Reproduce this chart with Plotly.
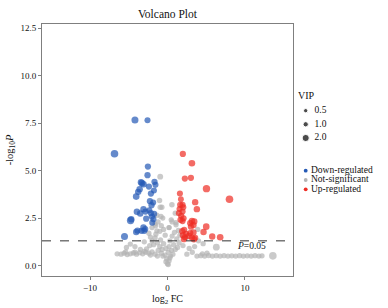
import math
import plotly.graph_objects as go

# ---------------- data ----------------
down_fc = [-4.2, -2.58, -6.84, -2.53, -2.58, -3.43, -3.1, -1.68, -1.55, -2.4, -3.6, -3.78,
           -1.75, -2.14, -4.04, -2.27, -1.85, -2.06, -3.95, -3.1, -2.84, -2.36, -2.14, -3.52,
           -1.72, -2.01, -4.68, -4.77, -2.75, -1.81, -1.97, -3.1, -2.88, -3.87, -3.35, -4.04,
           -3.0, -5.55, -3.3]
down_p = [7.67, 7.65, 5.89, 5.21, 4.76, 4.39, 4.28, 4.41, 4.25, 4.16, 4.02, 3.88,
          3.95, 3.79, 3.63, 3.39, 3.32, 3.18, 2.83, 2.97, 2.84, 2.91, 2.76, 2.74,
          2.72, 2.58, 2.44, 2.37, 2.47, 2.44, 2.26, 2.0, 1.92, 1.84, 1.83, 1.77,
          1.83, 1.53, 4.34]
down_vip = [1.9, 1.4, 2.2, 1.5, 1.5, 1.6, 1.7, 1.5, 1.4, 1.5, 1.6, 1.6,
            1.4, 1.5, 1.7, 1.5, 1.4, 1.5, 1.6, 1.6, 1.5, 1.5, 1.4, 1.6,
            1.4, 1.5, 1.6, 2.1, 1.5, 1.4, 1.4, 1.6, 1.5, 1.6, 1.5, 1.6,
            1.5, 1.9, 1.7]

up_fc = [1.98, 3.15, 2.24, 3.02, 5.03, 8.0, 1.6, 1.73, 3.57, 1.64, 1.94, 2.03,
         1.55, 3.79, 1.94, 1.47, 1.77, 2.07, 1.68, 1.94, 3.15, 3.45, 2.93, 3.35,
         3.02, 5.0, 2.15, 1.9, 4.65, 2.41, 2.93, 3.35, 1.98, 2.24, 2.76, 3.15,
         3.57, 5.77, 6.8, 2.11, 3.41]
up_p = [5.88, 5.39, 4.58, 4.62, 4.05, 3.49, 3.79, 3.49, 3.34, 3.2, 3.2, 3.07,
        2.98, 2.97, 2.84, 2.76, 2.62, 2.49, 2.41, 2.34, 2.35, 2.32, 2.23, 2.13,
        2.05, 2.05, 1.88, 1.81, 1.77, 1.67, 1.71, 1.74, 1.6, 1.49, 1.56, 1.46,
        1.46, 1.53, 1.49, 1.39, 1.39]
up_vip = [1.5, 1.7, 1.5, 1.5, 2.1, 2.2, 1.4, 1.3, 1.6, 1.5, 1.5, 1.5,
          1.4, 1.6, 1.5, 1.4, 1.5, 1.5, 1.5, 1.5, 1.6, 1.6, 1.5, 1.6,
          1.5, 1.7, 1.5, 1.5, 1.6, 1.5, 1.5, 1.6, 1.5, 1.5, 1.5, 1.5,
          1.5, 1.6, 1.7, 1.5, 1.6]

ns_fc = [-0.94, -1.03, -0.94, -0.85, 0.57, -0.72, 1.0, -1.37, -1.55, -1.37, 0.48, 1.08,
         -0.6, -1.2, 0.2,
         0.0, -0.2, 0.2, 0.1, -0.1, 0.3,
         -0.6, -0.3, 0.4, 0.7, -0.8, 0.1,
         -1.2, -0.7, -0.2, 0.5, 1.0, 1.3, -1.0, 0.2,
         -1.8, -1.3, -0.5, 0.8, 1.5, 2.0, -0.9, 0.3, 1.2, -1.6,
         -2.2, -1.5, -0.3, 0.6, 1.6, -2.4, -1.0, 0.9, 1.4, -0.5, 2.4,
         -2.0, -0.8, 0.2, 1.1, -1.6, 0.6,
         -6.5, -6.0, -5.6, -5.2, -4.8, -4.4, -4.0, -3.6, -3.2, -2.8, -2.4, -2.0,
         -1.6, -1.3, -5.4, -3.0, -2.2, -4.2,
         -4.8, -4.2, -3.5, -2.7, -2.3, -3.0, -2.0, -5.3,
         3.8, 4.3, 4.8, 5.3, 5.8, 6.3, 6.8, 7.3, 7.8, 8.3, 8.8, 9.3,
         9.8, 10.3, 10.8, 11.3, 11.8, 12.2, 13.6, 6.3, 4.5, 5.1, 3.2, 2.8,
         3.5, 4.6, 2.5, 4.0, 3.9]
ns_p = [4.68, 3.42, 3.07, 2.58, 3.2, 3.07, 2.76, 2.65, 2.09, 1.83, 2.41, 2.26,
        2.5, 2.3, 2.0,
        0.1, 0.2, 0.25, 0.05, 0.35, 0.4,
        0.5, 0.55, 0.5, 0.6, 0.65, 0.7,
        0.8, 0.85, 0.9, 0.8, 0.85, 0.95, 1.0, 1.0,
        1.1, 1.2, 1.15, 1.1, 1.2, 1.05, 1.35, 1.3, 1.4, 1.45,
        1.5, 1.65, 1.6, 1.55, 1.6, 1.7, 1.8, 1.75, 1.85, 1.9, 1.45,
        2.0, 2.1, 2.0, 2.15, 2.2, 2.3,
        0.62, 0.6, 0.65, 0.58, 0.62, 0.66, 0.6, 0.68, 0.62, 0.7, 0.65, 0.72,
        0.6, 0.5, 0.72, 0.75, 0.55, 0.7,
        1.13, 1.0, 0.85, 0.88, 1.05, 1.25, 1.3, 0.95,
        0.5, 0.52, 0.5, 0.53, 0.5, 0.52, 0.5, 0.52, 0.5, 0.51, 0.5, 0.52,
        0.5, 0.51, 0.5, 0.52, 0.5, 0.51, 0.51, 0.97, 0.62, 0.65, 0.7, 0.9,
        1.0, 1.15, 0.6, 1.3, 1.9]
ns_vip = [1.3, 1.1, 1.1, 1.1, 1.1, 1.0, 1.0, 1.0, 1.0, 1.0, 1.0, 1.0,
          0.9, 0.9, 0.9,
          1.0, 1.0, 1.0, 1.0, 1.0, 1.0,
          1.0, 1.0, 1.0, 1.0, 1.0, 1.0,
          1.0, 1.0, 1.0, 1.0, 1.0, 1.0, 1.0, 1.0,
          1.0, 1.0, 1.0, 1.0, 1.0, 1.0, 1.0, 1.0, 1.0, 1.0,
          1.0, 1.0, 1.0, 1.0, 1.0, 1.0, 1.0, 1.0, 1.0, 1.0, 1.0,
          1.0, 1.0, 1.0, 1.0, 1.0, 1.0,
          1.0, 1.0, 1.0, 1.0, 1.0, 1.0, 1.0, 1.0, 1.0, 1.0, 1.0, 1.0,
          1.0, 1.0, 1.0, 1.0, 1.0, 1.0,
          1.0, 1.0, 1.0, 1.0, 1.0, 1.0, 1.0, 1.0,
          1.0, 1.0, 1.0, 1.0, 1.0, 1.0, 1.0, 1.0, 1.0, 1.0, 1.0, 1.0,
          1.0, 1.0, 1.0, 1.0, 1.0, 1.0, 2.2, 1.8, 1.0, 1.0, 1.0, 1.0,
          1.0, 1.0, 1.0, 1.0, 1.0]

vip_legend = [0.5, 1.0, 2.0]
group_labels = ["Down-regulated", "Not-significant", "Up-regulated"]
group_colors = ["#2459b5", "#b4b4b4", "#ee2c24"]
p_threshold = 0.05

x_ticks = [-10, 0, 10]
y_ticks = [0, 2.5, 5, 7.5, 10, 12.5]

# ---------------- styling ----------------
FONT = "Liberation Serif, Times New Roman, serif"
TXT = "#111111"
AXC = "#7f7f7f"


def vsize(v):
    return 3.4 + 1.9 * v


fig = go.Figure()
series = [(ns_fc, ns_p, ns_vip, group_colors[1]),
          (down_fc, down_p, down_vip, group_colors[0]),
          (up_fc, up_p, up_vip, group_colors[2])]
for xs, ys, vs, col in series:
    fig.add_trace(go.Scatter(
        x=xs, y=ys, mode="markers",
        marker=dict(color=col, size=[vsize(v) for v in vs], line=dict(width=0)),
        hoverinfo="skip", showlegend=False, xaxis="x", yaxis="y"))

# threshold line
thr = -math.log10(p_threshold)
fig.add_shape(type="line", xref="x domain", x0=0, x1=1, yref="y", y0=thr, y1=thr,
              line=dict(color="#333333", width=1, dash="dash"))
fig.add_annotation(x=10.8, y=thr - 0.25, xref="x", yref="y",
                   text="<i>P</i>=0.05", showarrow=False,
                   font=dict(family=FONT, size=9.5, color=TXT))

# ---------------- custom legend on an overlay axis (pixel-like coords) ----------------
leg_x_dot = 305.7
vip_y = [110.7, 124.3, 138.0]
col_y = [170.7, 180.0, 189.3]

fig.add_trace(go.Scatter(x=[298], y=[96.7], mode="text", text=["VIP"],
                         textposition="middle right",
                         textfont=dict(family=FONT, size=10, color=TXT),
                         xaxis="x2", yaxis="y2", showlegend=False, hoverinfo="skip"))
fig.add_trace(go.Scatter(x=[leg_x_dot] * 3, y=vip_y, mode="markers",
                         marker=dict(color="black", size=[vsize(v) for v in vip_legend]),
                         xaxis="x2", yaxis="y2", showlegend=False, hoverinfo="skip"))
fig.add_trace(go.Scatter(x=[314.5] * 3, y=vip_y, mode="text",
                         text=[f"{v:.1f}" for v in vip_legend], textposition="middle right",
                         textfont=dict(family=FONT, size=9.5, color=TXT),
                         xaxis="x2", yaxis="y2", showlegend=False, hoverinfo="skip"))
fig.add_trace(go.Scatter(x=[leg_x_dot] * 3, y=col_y, mode="markers",
                         marker=dict(color=group_colors, size=3.8),
                         xaxis="x2", yaxis="y2", showlegend=False, hoverinfo="skip"))
fig.add_trace(go.Scatter(x=[311] * 3, y=col_y, mode="text",
                         text=group_labels, textposition="middle right",
                         textfont=dict(family=FONT, size=9.5, color=TXT),
                         xaxis="x2", yaxis="y2", showlegend=False, hoverinfo="skip"))

W, H = 388, 308
L, T, B = 42, 24, 32
plot_right = 293
dom_end = (plot_right - L) / (W - L)

axis_common = dict(showgrid=False, zeroline=False, showline=True, linecolor=AXC,
                   linewidth=1, mirror=True, ticks="outside", ticklen=3,
                   tickcolor=AXC, tickwidth=1, automargin=False,
                   tickfont=dict(family=FONT, size=9, color=TXT))

fig.update_layout(
    width=W, height=H,
    margin=dict(l=L, r=0, t=T, b=B, pad=0, autoexpand=False),
    paper_bgcolor="white", plot_bgcolor="white",
    font=dict(family=FONT, color=TXT),
    showlegend=False,
    title=dict(text="Volcano Plot", x=(167.5 - L) / (W - L), xref="paper",
               xanchor="center", y=1 - 14 / H, yref="container", yanchor="middle",
               automargin=False,
               font=dict(family=FONT, size=11.5, color=TXT)),
    xaxis=dict(domain=[0, dom_end], range=[-16.2, 16.2], tickvals=x_ticks,
               title=dict(text="log<sub>2</sub> FC", standoff=3,
                          font=dict(family=FONT, size=10, color=TXT)),
               **axis_common),
    yaxis=dict(range=[-0.55, 12.72], tickvals=y_ticks, tickformat=".1f",
               title=dict(text="-log<sub>10</sub><i>P</i>", standoff=4,
                          font=dict(family=FONT, size=10.5, color=TXT)),
               **axis_common),
    xaxis2=dict(domain=[dom_end, 1], range=[plot_right, W], visible=False,
                anchor="y2", fixedrange=True),
    yaxis2=dict(domain=[0, 1], range=[H - B, T], visible=False,
                anchor="x2", fixedrange=True),
)

fig.write_html("out.html", config={"displayModeBar": False},
               post_script="document.body.style.margin='0';document.body.style.overflow='hidden';")
